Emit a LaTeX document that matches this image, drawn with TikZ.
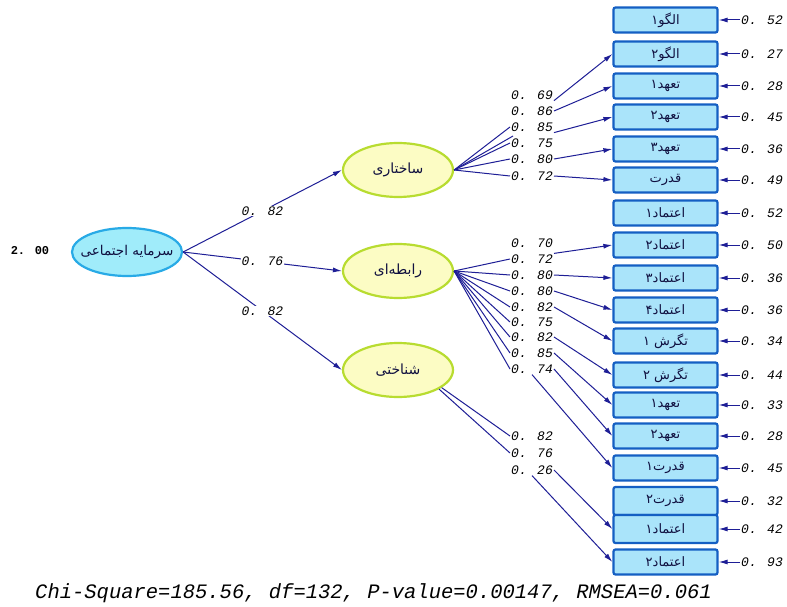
\documentclass[tikz,border=0pt]{standalone}
\usepackage{fontspec}
\usetikzlibrary{shapes.geometric,arrows.meta}
\TeXXeTstate=1
\newfontfamily\fa[Script=Arabic]{DejaVu Sans}
\newfontfamily\lis{Liberation Mono}
\definecolor{pathc}{RGB}{30,30,150}
\definecolor{boxline}{RGB}{20,95,195}
\definecolor{boxfill}{RGB}{170,228,250}
\definecolor{latline}{RGB}{184,220,48}
\definecolor{latfill}{RGB}{252,252,196}
\definecolor{mainline}{RGB}{40,170,230}
\definecolor{mainfill}{RGB}{160,236,250}
\definecolor{boxtext}{RGB}{16,16,64}
\tikzset{
  ind/.style={draw=boxline, line width=2.2pt, fill=boxfill, rounded corners=2pt,
    minimum width=104pt, minimum height=25pt, inner sep=0pt, text=boxtext,
    font=\fa\fontsize{13}{13}\selectfont},
  lat/.style={ellipse, draw=latline, line width=2.2pt, fill=latfill,
    minimum width=110pt, minimum height=54pt, inner sep=0pt, text=boxtext,
    font=\fa\fontsize{14}{14}\selectfont},
  mainlat/.style={ellipse, draw=mainline, line width=2.2pt, fill=mainfill,
    minimum width=110pt, minimum height=48pt, inner sep=0pt},
  maintext/.style={text=boxtext, inner sep=0pt, font=\fa\fontsize{13.5}{13.5}\selectfont},
  lab/.style={inner sep=1pt, font=\lis\itshape\fontsize{13}{13}\selectfont},
  errlab/.style={inner sep=1pt, font=\lis\itshape\fontsize{13}{13}\selectfont},
  con/.style={draw=pathc, line width=1pt},
  arr/.style={draw=pathc, line width=1pt, -{Latex[length=9pt,width=5pt]}},
}
\begin{document}
\begin{tikzpicture}[x=1pt,y=-1pt]
\useasboundingbox (0,0) rectangle (787,607);
\fill[white] (0,0) rectangle (787,607);

% latent variables
\node[mainlat, label={[maintext]center:{\beginR سرمایه اجتماعی\endR}}] (main) at (127,252) {};
\node[lat] (s1) at (398,170) {\beginR ساختاری\endR};
\node[lat] (s2) at (398,271) {\beginR رابطه‌ای\endR};
\node[lat] (s3) at (398,370) {\beginR شناختی\endR};
\node[inner sep=1pt, font=\lis\bfseries\fontsize{12}{12}\selectfont] (v0) at (30,251) {2. 00};

% indicators
\node[ind] (b1) at (665.5,20) {\beginR الگو۱\endR};
\node[ind] (b2) at (665.5,54) {\beginR الگو۲\endR};
\node[ind] (b3) at (665.5,86) {\beginR تعهد۱\endR};
\node[ind] (b4) at (665.5,117) {\beginR تعهد۲\endR};
\node[ind] (b5) at (665.5,149) {\beginR تعهد۳\endR};
\node[ind] (b6) at (665.5,180) {\beginR قدرت\endR};
\node[ind] (b7) at (665.5,213) {\beginR اعتماد۱\endR};
\node[ind] (b8) at (665.5,245) {\beginR اعتماد۲\endR};
\node[ind] (b9) at (665.5,278) {\beginR اعتماد۳\endR};
\node[ind] (b10) at (665.5,310) {\beginR اعتماد۴\endR};
\node[ind] (b11) at (665.5,341) {\beginR تگرش ۱\endR};
\node[ind] (b12) at (665.5,375) {\beginR تگرش ۲\endR};
\node[ind] (b13) at (665.5,405) {\beginR تعهد۱\endR};
\node[ind] (b14) at (665.5,436) {\beginR تعهد۲\endR};
\node[ind] (b15) at (665.5,468) {\beginR قدرت۱\endR};
\node[ind, minimum height=28pt] (b16) at (665.5,501) {\beginR قدرت۲\endR};
\node[ind, minimum height=28pt] (b17) at (665.5,529) {\beginR اعتماد۱\endR};
\node[ind] (b18) at (665.5,562) {\beginR اعتماد۲\endR};

% error terms
\foreach \i/\y/\v in {1/20/52,2/54/27,3/86/28,4/117/45,5/149/36,6/180/49,
  7/213/52,8/245/50,9/278/36,10/310/36,11/341/34,12/375/44,13/405/33,
  14/436/28,15/468/45,16/501/32,17/529/42,18/562/93}{
  \node[errlab] (e\i) at (762,\y) {0. \v};
  \draw[arr] (e\i.west) -- (b\i.east);
}

% second-order paths
\draw[arr] (main.east) -- node[lab, fill=white] (m1) {0. 82} (s1.west);
\draw[arr] (main.east) -- node[lab, fill=white] (m2) {0. 76} (s2.west);
\draw[arr] (main.east) -- node[lab, fill=white] (m3) {0. 82} (s3.west);

% loadings of group 1
\node[lab] (l1a) at (532,95) {0. 69};
\node[lab] (l1b) at (532,111) {0. 86};
\node[lab] (l1c) at (532,127) {0. 85};
\node[lab] (l1d) at (532,143) {0. 75};
\node[lab] (l1e) at (532,159) {0. 80};
\node[lab] (l1f) at (532,176) {0. 72};
\coordinate (x1) at (513,136);
\foreach \t in {l1c.west,l1d.west,l1e.west,l1f.west,x1}
  \draw[con] (s1.east) -- (\t);
\draw[arr] (l1a.south east) -- (b2.west);
\draw[arr] (l1b.east) -- (b3.west);
\draw[arr] (l1c.south east) -- (b4.west);
\draw[arr] (l1e.east) -- (b5.west);
\draw[arr] (l1f.east) -- (b6.west);

% loadings of group 2
\node[lab] (l2a) at (532,243) {0. 70};
\node[lab] (l2b) at (532,259) {0. 72};
\node[lab] (l2c) at (532,275) {0. 80};
\node[lab] (l2d) at (532,291) {0. 80};
\node[lab] (l2e) at (532,307) {0. 82};
\node[lab] (l2f) at (532,322) {0. 75};
\node[lab] (l2g) at (532,337) {0. 82};
\node[lab] (l2h) at (532,353) {0. 85};
\node[lab] (l2i) at (532,369) {0. 74};
\foreach \t in {l2b,l2c,l2d,l2e,l2f,l2g,l2h,l2i}
  \draw[con] (s2.east) -- (\t.west);
\draw[arr] (l2b.north east) -- (b8.west);
\draw[arr] (l2c.east) -- (b9.west);
\draw[arr] (l2d.east) -- (b10.west);
\draw[arr] (l2e.east) -- (b11.west);
\draw[arr] (l2g.east) -- (b12.west);
\draw[arr] (l2h.east) -- (b13.west);
\draw[arr] (l2i.east) -- (b14.west);
\draw[arr] (l2i.south) -- (b15.west);

% loadings of group 3
\node[lab] (l3a) at (532,436) {0. 82};
\node[lab] (l3b) at (532,453) {0. 76};
\node[lab] (l3c) at (532,470) {0. 26};
\draw[con] (s3.-22) -- (l3a.west);
\draw[con] (s3.-25) -- (l3b.west);
\draw[arr] (l3c.east) -- (b17.west);
\draw[arr] (l3c.south) -- (b18.west);

% fit statistics
\node[anchor=west, inner sep=0pt, font=\lis\itshape\fontsize{20.5}{20.5}\selectfont] (fit) at (35,593)
  {Chi-Square=185.56, df=132, P-value=0.00147, RMSEA=0.061};
\end{tikzpicture}
\end{document}
